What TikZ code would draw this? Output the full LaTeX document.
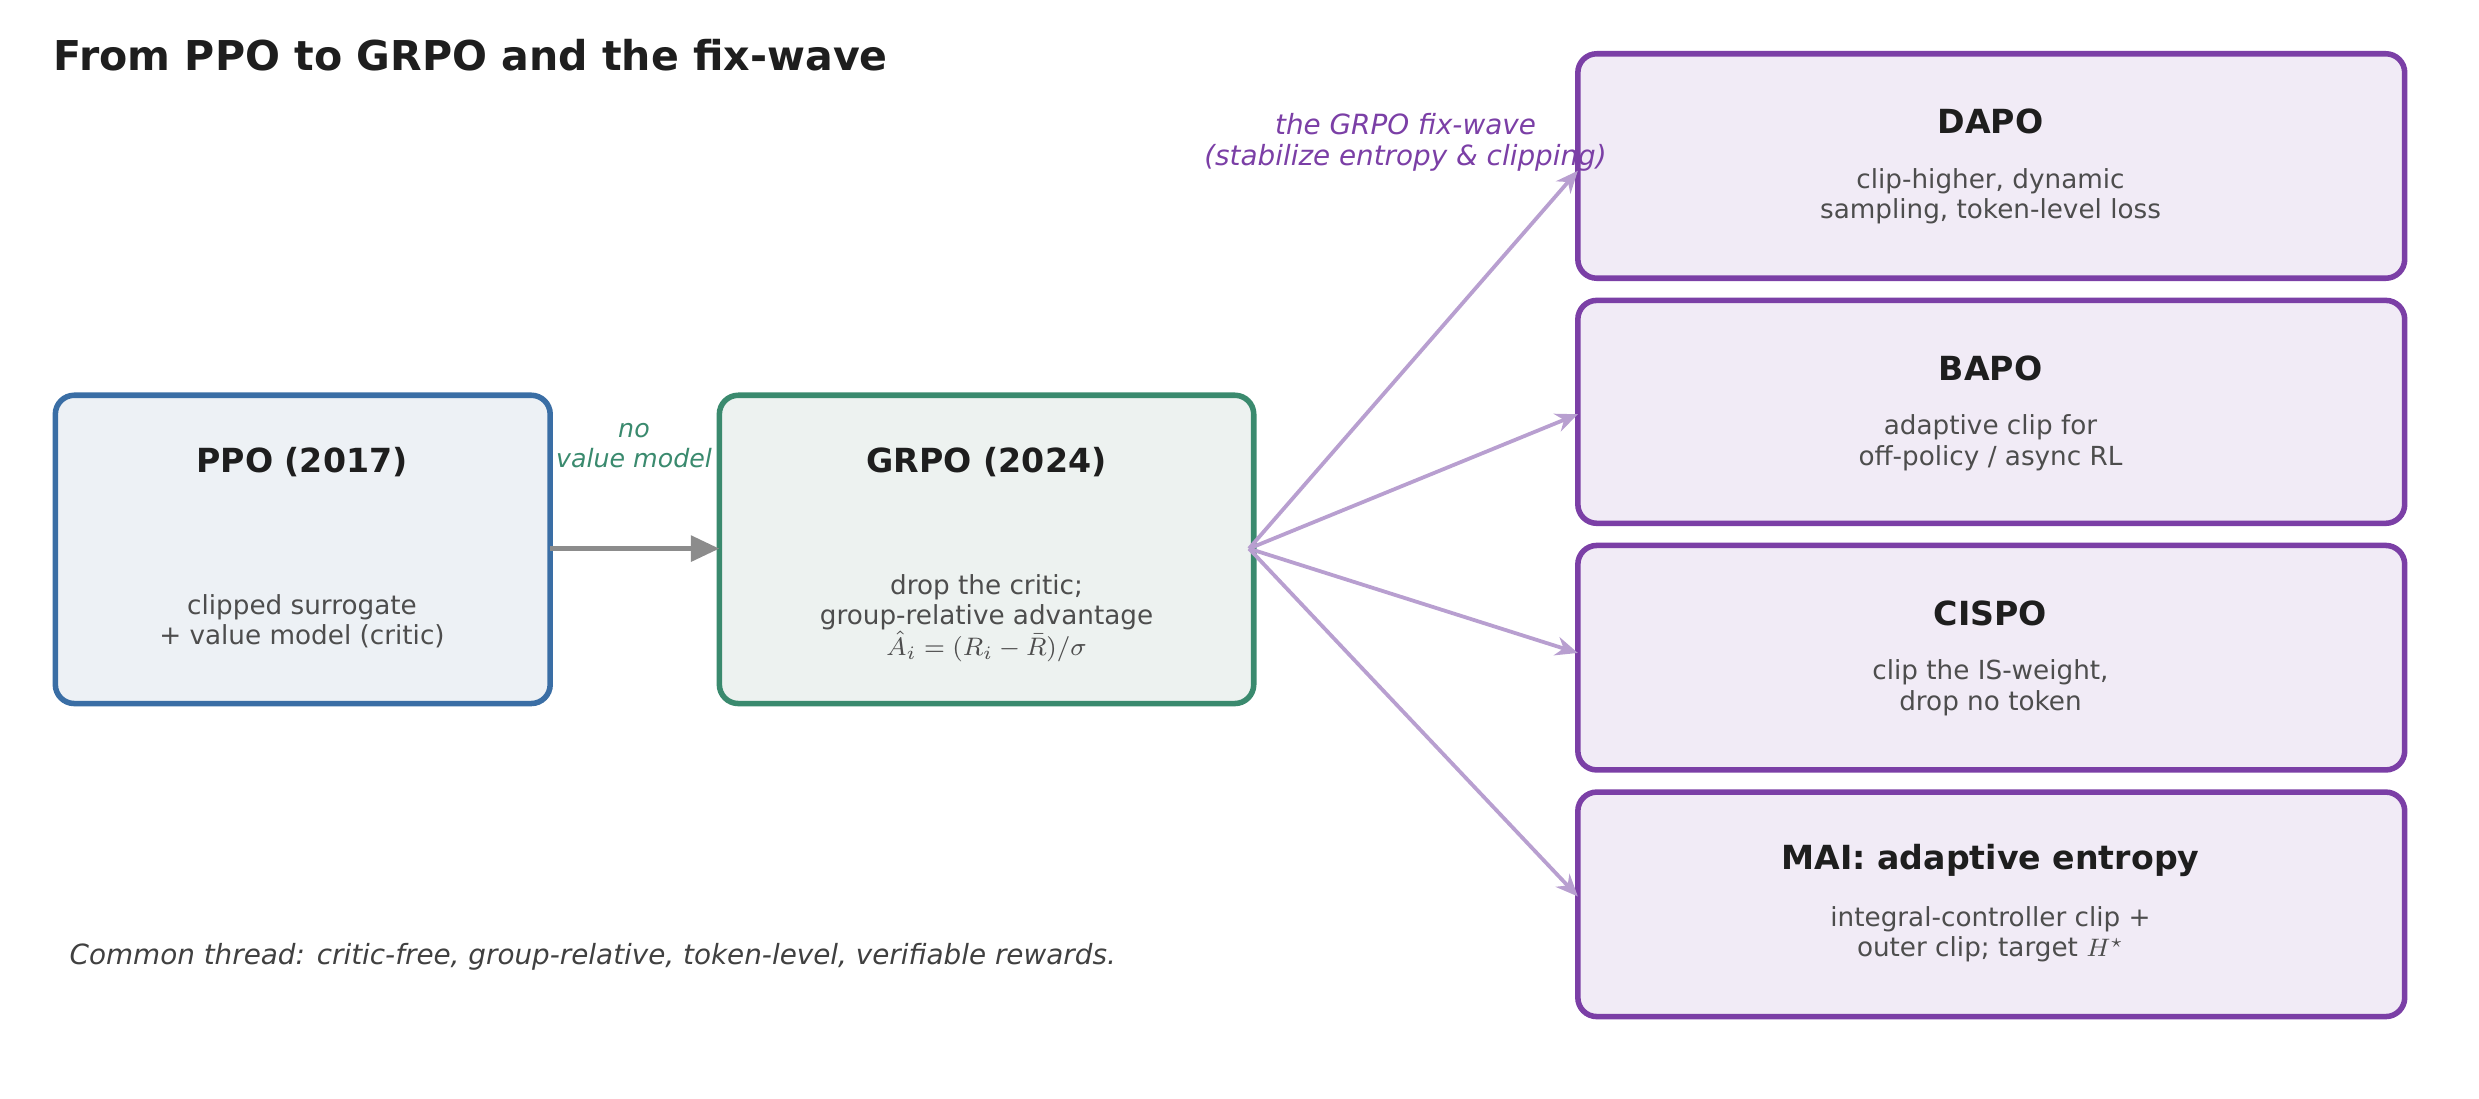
\documentclass[tikz,border=0pt]{standalone}
\usepackage{fontspec}
\setmainfont{DejaVu Sans}
\usetikzlibrary{arrows.meta}
\definecolor{ppoB}{HTML}{3A6EA5}\definecolor{ppoF}{HTML}{EDF1F5}
\definecolor{grB}{HTML}{3A8A6E}\definecolor{grF}{HTML}{EDF2F0}
\definecolor{puB}{HTML}{7B3FA6}\definecolor{puF}{HTML}{F1EBF6}
\definecolor{puA}{HTML}{B89FD0}\definecolor{txt}{HTML}{4D4D4D}
\definecolor{ttl}{HTML}{1E1E1E}
\begin{document}
\begin{tikzpicture}[x=0.5pt,y=-0.5pt,
 box/.style={draw,line width=1.75pt,rounded corners=6pt},
 pbox/.style={box,draw=puB,fill=puF},
 btitle/.style={font=\fontsize{10.5}{12}\selectfont\bfseries,text=ttl},
 body/.style={font=\fontsize{8.3}{9.6}\selectfont,text=txt,align=center},
 fix/.style={draw=puA,line width=1.2pt,-{Stealth[length=7pt,width=6pt]}}]
\useasboundingbox (0,0) rectangle (1568,695);
\node[anchor=west,font=\fontsize{13}{15}\selectfont\bfseries,text=ttl] (title) at (27,35) {From PPO to GRPO and the fix-wave};
\path[box,draw=ppoB,fill=ppoF] (35,250) rectangle (348,445);
\coordinate (ppoR) at (348,347);
\node[btitle] (ppot) at (191,292) {PPO (2017)};
\node[body] (ppob) at (191,393) {clipped surrogate\\+ value model (critic)};
\path[box,draw=grB,fill=grF] (455,250) rectangle (793,445);
\coordinate (grL) at (455,347); \coordinate (grR) at (790,347);
\node[btitle] (grt) at (624,292) {GRPO (2024)};
\node[body] (grb) at (624,391) {drop the critic;\\group-relative advantage\\$\hat{A}_i=(R_i-\bar{R})/\sigma$};
\draw[draw=gray!90,line width=1.6pt,-{Triangle[length=9pt,width=8pt]}] (ppoR) -- (grL);
\node[font=\fontsize{8}{9.5}\selectfont\itshape,text=grB,align=center] (nv) at (401,282) {no\\value model};
\path[pbox] (998,34) rectangle (1521,176);
\node[btitle] (dt) at (1259,77) {DAPO};
\node[body] (db) at (1259,124) {clip-higher, dynamic\\sampling, token-level loss};
\path[pbox] (998,190) rectangle (1521,331);
\node[btitle] (bt) at (1259,233) {BAPO};
\node[body] (bb) at (1259,280) {adaptive clip for\\off-policy / async RL};
\path[pbox] (998,345) rectangle (1521,487);
\node[btitle] (ct) at (1259,388) {CISPO};
\node[body] (cb) at (1259,435) {clip the IS-weight,\\drop no token};
\path[pbox] (998,501) rectangle (1521,643);
\node[btitle] (mt) at (1259,544) {MAI: adaptive entropy};
\node[body] (mb) at (1259,591) {integral-controller clip +\\outer clip; target $H^\star$};
\coordinate (dL) at (998,108);\coordinate (bL) at (998,262);
\coordinate (cL) at (998,413);\coordinate (mL) at (998,567);
\draw[fix] (grR) -- (dL);
\draw[fix] (grR) -- (bL);
\draw[fix] (grR) -- (cL);
\draw[fix] (grR) -- (mL);
\node[font=\fontsize{8.8}{10}\selectfont\itshape,text=puB,align=center] (fw) at (889,90) {the GRPO fix-wave\\(stabilize entropy \& clipping)};
\node[anchor=west,font=\fontsize{8.8}{10}\selectfont\itshape,text=black!75] (foot) at (37,605) {Common thread: critic-free, group-relative, token-level, verifiable rewards.};
\end{tikzpicture}
\end{document}
